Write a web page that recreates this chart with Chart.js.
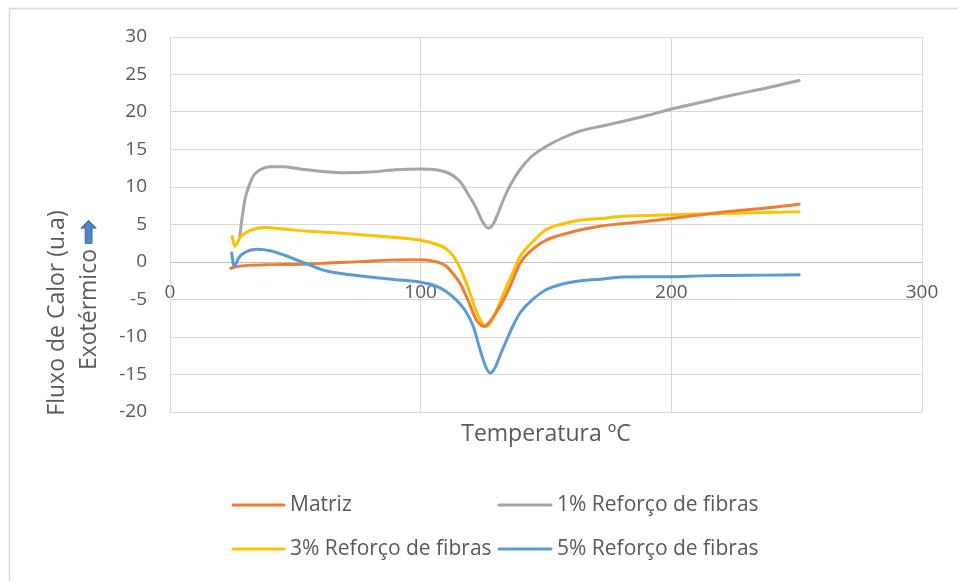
<!DOCTYPE html>
<html>
<head>
<meta charset="utf-8">
<script src="https://cdn.jsdelivr.net/npm/chart.js@4.4.1/dist/chart.umd.min.js"></script>
<style>
  html, body { margin: 0; padding: 0; background: #ffffff; }
  canvas { display: block; }
</style>
</head>
<body>
<canvas id="dsc" width="958" height="581"></canvas>
<script>
// DSC curves: heat flow (u.a) against temperature (ºC)
const seriesLabels = ['Matriz', '1% Reforço de fibras', '3% Reforço de fibras', '5% Reforço de fibras'];
const seriesColors = ['#ED7D31', '#A5A5A5', '#FFC000', '#5B9BD5'];

const tempMatriz = [24.2, 25.5, 27, 31, 40, 53, 65, 76, 88, 100, 106, 110, 113, 116, 119, 122, 124, 125.6, 127, 130, 133, 136.5, 139.6, 145, 150, 157, 164, 172, 180, 190, 200, 212, 225, 238, 251];
const fluxMatriz = [-0.85, -0.7, -0.6, -0.45, -0.35, -0.3, -0.1, 0.05, 0.25, 0.3, 0.05, -0.5, -1.6, -3.0, -5.2, -7.6, -8.4, -8.6, -8.2, -6.8, -5.1, -2.6, -0.2, 1.8, 2.9, 3.7, 4.3, 4.8, 5.1, 5.4, 5.8, 6.3, 6.8, 7.2, 7.7];

const temp1 = [27.8, 28.8, 30, 31.9, 33.5, 36, 40, 45, 52, 60, 70, 80, 90, 100, 106, 110, 113, 116, 119, 122, 124.5, 127, 129, 131, 133, 136, 139.6, 144, 150, 157, 164, 172, 180, 190, 200, 212, 225, 238, 251];
const flux1 = [3.4, 6.0, 8.5, 10.5, 11.6, 12.3, 12.7, 12.7, 12.4, 12.1, 11.9, 12.0, 12.3, 12.4, 12.3, 12.0, 11.5, 10.6, 9.0, 7.3, 5.5, 4.5, 5.1, 6.6, 8.3, 10.4, 12.3, 14.0, 15.4, 16.6, 17.5, 18.1, 18.7, 19.5, 20.4, 21.3, 22.3, 23.2, 24.2];

const temp3 = [24.8, 25.9, 28, 32, 38, 45, 55, 70, 85, 100, 106, 110, 113, 116, 119, 122, 124.5, 126.3, 128, 130.5, 133, 136.5, 139.6, 145, 150, 157, 164, 172, 180, 190, 200, 212, 225, 238, 251];
const flux3 = [3.4, 2.1, 3.3, 4.2, 4.6, 4.4, 4.1, 3.8, 3.4, 2.9, 2.4, 1.8, 0.8, -1.0, -3.5, -6.4, -8.1, -8.6, -8.0, -6.3, -4.2, -1.6, 0.7, 2.8, 4.3, 5.1, 5.6, 5.8, 6.1, 6.2, 6.3, 6.4, 6.5, 6.6, 6.7];

const temp5 = [24.6, 25.5, 27.5, 30, 34.5, 40, 46.5, 55, 62.5, 72, 82.5, 92, 100, 106, 110, 114, 118, 121, 123.7, 126, 127.6, 129.5, 132, 134.3, 137, 139.6, 145, 150, 157, 164, 172, 180, 190, 200, 212, 225, 238, 251];
const flux5 = [1.2, -0.6, 0.6, 1.3, 1.7, 1.5, 0.8, -0.3, -1.2, -1.7, -2.1, -2.4, -2.7, -3.2, -3.9, -5.0, -6.6, -8.6, -11.7, -14.0, -14.8, -14.2, -12.2, -10.4, -8.4, -6.8, -4.9, -3.7, -2.9, -2.5, -2.3, -2.0, -1.95, -1.95, -1.85, -1.8, -1.75, -1.7];

const xTicks = [0, 100, 200, 300];
const yMin = -20, yMax = 30, yStep = 5;

const xTitle = 'Temperatura ºC';
const yTitleLine1 = 'Fluxo de Calor (u.a)';
const yTitleLine2 = 'Exotérmico';
// drawn on the rotated baseline, so it points upwards on screen
const yTitleArrow = '➡';

const FONT = '"Open Sans", sans-serif';
const TEXT = '#595959';
const GRID = '#d9d9d9';

function pairs(xs, ys) { return xs.map((x, i) => ({ x: x, y: ys[i] })); }

const allTemps = [tempMatriz, temp1, temp3, temp5];
const allFlux = [fluxMatriz, flux1, flux3, flux5];

const datasets = seriesLabels.map((label, i) => ({
  label: label,
  data: pairs(allTemps[i], allFlux[i]),
  borderColor: seriesColors[i],
  backgroundColor: seriesColors[i],
  borderWidth: 3,
  pointRadius: 0,
  showLine: true,
  fill: false,
  cubicInterpolationMode: 'monotone',
  borderCapStyle: 'round',
  borderJoinStyle: 'round'
}));
// draw order: grey, yellow, orange, blue on top
const drawOrder = [2, 4, 3, 1];
datasets.forEach((d, i) => { d.order = drawOrder[i]; });

// white page with a thin frame on the top and left edges
const framePlugin = {
  id: 'frame',
  beforeDraw(chart) {
    const ctx = chart.ctx;
    ctx.save();
    ctx.fillStyle = '#ffffff';
    ctx.fillRect(0, 0, chart.width, chart.height);
    ctx.strokeStyle = GRID;
    ctx.lineWidth = 1.5;
    ctx.beginPath();
    ctx.moveTo(9.5, chart.height);
    ctx.lineTo(9.5, 8.5);
    ctx.lineTo(chart.width, 8.5);
    ctx.stroke();
    ctx.restore();
  }
};

// axis titles: x title under the plot, two-line rotated y title
const titlesPlugin = {
  id: 'titles',
  afterDraw(chart) {
    const ctx = chart.ctx;
    const area = chart.chartArea;
    ctx.save();
    ctx.fillStyle = TEXT;
    ctx.font = '23px ' + FONT;
    ctx.textAlign = 'center';
    ctx.textBaseline = 'middle';
    ctx.fillText(xTitle, (area.left + area.right) / 2, 434);

    ctx.translate(57, 313);
    ctx.rotate(-Math.PI / 2);
    ctx.fillText(yTitleLine1, 0, 0);
    ctx.restore();

    ctx.save();
    ctx.textBaseline = 'middle';
    ctx.translate(89, 294);
    ctx.rotate(-Math.PI / 2);
    ctx.font = '23px ' + FONT;
    const w1 = ctx.measureText(yTitleLine2 + ' ').width;
    const arrowFont = '30px "DejaVu Sans", sans-serif';
    ctx.font = arrowFont;
    const w2 = ctx.measureText(yTitleArrow).width;
    const start = -(w1 + w2) / 2;
    ctx.textAlign = 'left';
    ctx.font = '23px ' + FONT;
    ctx.fillStyle = TEXT;
    ctx.fillText(yTitleLine2 + ' ', start, 0);
    ctx.font = arrowFont;
    ctx.fillStyle = '#4F87C4';
    ctx.fillText(yTitleArrow, start + w1 - 2, 1);
    ctx.strokeStyle = '#2F5F93';
    ctx.lineWidth = 0.8;
    ctx.strokeText(yTitleArrow, start + w1 - 2, 1);
    ctx.restore();
  }
};

// legend laid out as a 2 x 2 grid below the plot
const legendPlugin = {
  id: 'gridLegend',
  afterDraw(chart) {
    const ctx = chart.ctx;
    const cols = [{ x0: 233, x1: 284, tx: 290 }, { x0: 499, x1: 551, tx: 557 }];
    const rows = [505, 549];
    ctx.save();
    ctx.font = '21px ' + FONT;
    ctx.textBaseline = 'middle';
    ctx.textAlign = 'left';
    chart.data.datasets.forEach((ds, i) => {
      const c = cols[i % 2];
      const y = rows[Math.floor(i / 2)];
      ctx.strokeStyle = ds.borderColor;
      ctx.lineWidth = 3;
      ctx.lineCap = 'round';
      ctx.beginPath();
      ctx.moveTo(c.x0, y);
      ctx.lineTo(c.x1, y);
      ctx.stroke();
      ctx.fillStyle = TEXT;
      ctx.fillText(ds.label, c.tx, y);
    });
    ctx.restore();
  }
};

new Chart(document.getElementById('dsc'), {
  type: 'scatter',
  data: { datasets: datasets },
  options: {
    responsive: false,
    animation: false,
    devicePixelRatio: 1,
    layout: { padding: { left: 10, top: 37, right: 36, bottom: 169 } },
    plugins: {
      legend: { display: false },
      tooltip: { enabled: false }
    },
    scales: {
      x: {
        type: 'linear',
        position: { y: 0 },
        min: xTicks[0],
        max: xTicks[xTicks.length - 1],
        afterBuildTicks(scale) { scale.ticks = xTicks.map(v => ({ value: v })); },
        ticks: {
          color: TEXT,
          font: { family: FONT, size: 19 },
          padding: 19,
          maxRotation: 0
        },
        grid: { color: GRID, lineWidth: 1, drawTicks: false },
        border: { display: true, color: '#bfbfbf', width: 1 }
      },
      y: {
        type: 'linear',
        position: 'left',
        min: yMin,
        max: yMax,
        afterFit(scale) { scale.width = 160; },
        ticks: {
          stepSize: yStep,
          color: TEXT,
          font: { family: FONT, size: 19 },
          padding: 23
        },
        grid: { color: GRID, lineWidth: 1, drawTicks: false },
        border: { display: true, color: GRID, width: 1 }
      }
    }
  },
  plugins: [framePlugin, titlesPlugin, legendPlugin]
});
</script>
</body>
</html>
